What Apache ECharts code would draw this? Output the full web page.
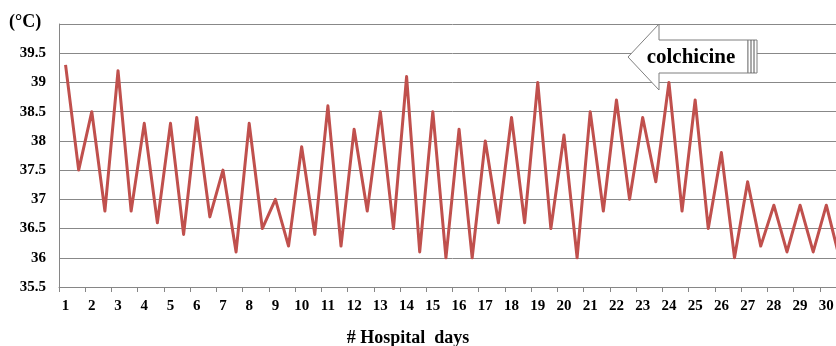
<!DOCTYPE html>
<html><head><meta charset="utf-8">
<script src="https://cdn.jsdelivr.net/npm/echarts@6/dist/echarts.min.js"></script>
<style>html,body{margin:0;padding:0;background:#fff;overflow:hidden;width:836px;height:346px}#c{width:846px;height:346px}</style>
</head><body><div id="c"></div>
<script>
const days = [1,2,3,4,5,6,7,8,9,10,11,12,13,14,15,16,17,18,19,20,21,22,23,24,25,26,27,28,29,30];
const halves = ['a','b'];
const temps = [
  39.3,37.5, 38.5,36.8, 39.2,36.8, 38.3,36.6, 38.3,36.4,
  38.4,36.7, 37.5,36.1, 38.3,36.5, 37.0,36.2, 37.9,36.4,
  38.6,36.2, 38.2,36.8, 38.5,36.5, 39.1,36.1, 38.5,36.0,
  38.2,36.0, 38.0,36.6, 38.4,36.6, 39.0,36.5, 38.1,36.0,
  38.5,36.8, 38.7,37.0, 38.4,37.3, 39.0,36.8, 38.7,36.5,
  37.8,36.0, 37.3,36.2, 36.9,36.1, 36.9,36.1, 36.9,36.0
];
const yTicks = {min:35.5, max:40, step:0.5};
const categories = [];
days.forEach(d => halves.forEach(h => categories.push(d + h)));

const chart = echarts.init(document.getElementById('c'), null, {renderer:'canvas'});
const serif = '"Liberation Serif","Times New Roman",serif';
chart.setOption({
  animation:false,
  grid:{left:59, top:24, right:0, height:263, containLabel:false},
  xAxis:{
    type:'category', data:categories, boundaryGap:true,
    axisLine:{show:true, lineStyle:{color:'#868686', width:1}},
    axisTick:{show:true, interval:1, length:5, lineStyle:{color:'#868686'}},
    axisLabel:{interval:1, formatter:v=>parseInt(v,10), color:'#000', fontFamily:serif, fontWeight:'bold', fontSize:15, margin:12, align:'center'},
    splitLine:{show:false}
  },
  yAxis:{
    type:'value', min:yTicks.min, max:yTicks.max, interval:yTicks.step,
    axisLine:{show:true, lineStyle:{color:'#868686', width:1}},
    axisTick:{show:false},
    axisLabel:{formatter:v=> v>=40 ? '' : String(v), color:'#000', fontFamily:serif, fontWeight:'bold', fontSize:15, margin:13},
    splitLine:{show:true, lineStyle:{color:'#888888', width:1}}
  },
  series:[{
    type:'line', data:temps, symbol:'none', clip:false,
    lineStyle:{color:'#C0504D', width:3, join:'round'}
  }],
  graphic:[
    {type:'text', x:9, y:22, style:{text:'(°C)', fill:'#000', font:'bold 18px '+serif, verticalAlign:'middle'}},
    {type:'text', x:408, y:338, style:{text:'# Hospital  days', fill:'#000', font:'bold 18px '+serif, align:'center', verticalAlign:'middle'}},
    {type:'polygon', z:100, shape:{points:[[628,57],[659,24],[659,40],[748,40],[748,73],[659,73],[659,90]]},
      style:{fill:'#fff', stroke:'#7f7f7f', lineWidth:1}},
    {type:'rect', z:100, shape:{x:748,y:40,width:9,height:33}, style:{fill:'#fff', stroke:'#7f7f7f', lineWidth:1}},
    {type:'line', z:101, shape:{x1:751,y1:40,x2:751,y2:73}, style:{stroke:'#555', lineWidth:1}},
    {type:'line', z:101, shape:{x1:754,y1:40,x2:754,y2:73}, style:{stroke:'#555', lineWidth:1}},
    {type:'text', z:102, x:691, y:58, style:{text:'colchicine', fill:'#000', font:'bold 21px '+serif, align:'center', verticalAlign:'middle'}}
  ]
});
</script></body></html>
